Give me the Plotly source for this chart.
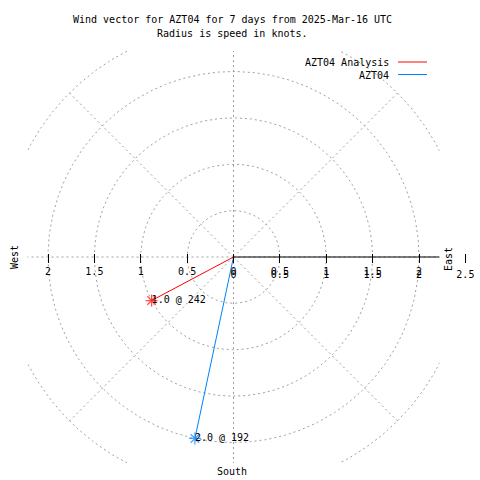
import numpy as np
import plotly.graph_objects as go

# ---------------- data ----------------
series_names = ["AZT04 Analysis", "AZT04"]
speeds_kt = [1.0, 2.0]
directions_deg = [242, 192]
series_colors = ["#ff0000", "#0080ff"]

grid_radii = [0.5, 1.0, 1.5, 2.0, 2.5]
spoke_angles = [0, 45, 90, 135, 180, 225, 270, 315]

axis_tick_vals = [-2, -1.5, -1, -0.5, 0, 0.5, 1, 1.5, 2]
axis_tick_text = ["2", "1.5", "1", "0.5", "0", "0.5", "1", "1.5", "2"]
r_tick_vals = [0, 0.5, 1, 1.5, 2, 2.5]
r_tick_text = ["0", "0.5", "1", "1.5", "2", "2.5"]

title_lines = ["Wind vector for AZT04 for 7 days from 2025-Mar-16 UTC",
               "Radius is speed in knots."]
compass_labels = ["West", "East", "South"]

# ---------------- layout constants (pixels) ----------------
W = 480
CX, CY = 233.5, 257.0
PPU = 92.75
HALF = 206.0
R_BOX = HALF / PPU
R_OUT = max(grid_radii)
FONT = "DejaVu Sans Mono"
GRID = dict(color="#a0a0a0", width=1, dash="2px,3px")


def fx(p):
    return p / W


def fy(p):
    return 1 - p / W


fig = go.Figure()

# grid circles
t = np.linspace(0, 2 * np.pi, 721)
for r in grid_radii:
    fig.add_trace(go.Scatter(x=r * np.cos(t), y=r * np.sin(t), mode="lines",
                             line=GRID, hoverinfo="skip", showlegend=False))
# spokes
for a in spoke_angles:
    ar = np.radians(a)
    fig.add_trace(go.Scatter(x=[0, R_OUT * np.sin(ar)], y=[0, R_OUT * np.cos(ar)],
                             mode="lines", line=GRID, hoverinfo="skip", showlegend=False))
# radial axis line (east)
fig.add_trace(go.Scatter(x=[0, R_BOX], y=[0, 0], mode="lines",
                         line=dict(color="black", width=1),
                         hoverinfo="skip", showlegend=False))

# wind vectors
for name, s, d, c in zip(series_names, speeds_kt, directions_deg, series_colors):
    th = np.radians(d)
    xe, ye = s * np.sin(th), s * np.cos(th)
    fig.add_trace(go.Scatter(x=[0, xe], y=[0, ye], mode="lines+markers", name=name,
                             line=dict(color=c, width=1),
                             marker=dict(symbol="asterisk-open", size=[0, 10],
                                         color=c, line=dict(color=c, width=1.3)),
                             hoverinfo="skip", showlegend=False))
    fig.add_trace(go.Scatter(x=[xe], y=[ye], mode="text", text=[f"{s:.1f} @ {d}"],
                             textposition="middle right",
                             textfont=dict(family=FONT, size=10, color="black"),
                             hoverinfo="skip", showlegend=False))

# helper trace for second (radial) tick axis
fig.add_trace(go.Scatter(x=[None], y=[None], xaxis="x2", yaxis="y",
                         hoverinfo="skip", showlegend=False))

annotations = []
# title
for i, line in enumerate(title_lines):
    annotations.append(dict(text=line, x=fx(232), y=fy(20 + 14 * i), xref="paper", yref="paper",
                            xanchor="center", yanchor="middle", showarrow=False,
                            font=dict(family=FONT, size=10, color="black")))
# legend
shapes = []
for i, (name, c) in enumerate(zip(series_names, series_colors)):
    yy = 63 + 12.5 * i
    annotations.append(dict(text=name, x=fx(391), y=fy(yy), xref="paper", yref="paper",
                            xanchor="right", yanchor="middle", showarrow=False,
                            font=dict(family=FONT, size=10, color="black")))
    shapes.append(dict(type="line", xref="paper", yref="paper", x0=fx(398), x1=fx(427),
                       y0=fy(yy - 1), y1=fy(yy - 1), line=dict(color=c, width=1)))
# compass labels
comp_pos = [(14, 257, -90), (448, 259, -90), (232, 471, 0)]
for lab, (px, py, ang) in zip(compass_labels, comp_pos):
    annotations.append(dict(text=lab, x=fx(px), y=fy(py), xref="paper", yref="paper",
                            xanchor="center", yanchor="middle", showarrow=False, textangle=ang,
                            font=dict(family=FONT, size=10, color="black")))

x0px = CX - HALF
fig.update_layout(
    width=W, height=W, autosize=False,
    margin=dict(l=0, r=0, t=0, b=0),
    paper_bgcolor="white", plot_bgcolor="rgba(0,0,0,0)",
    showlegend=False,
    xaxis=dict(domain=[fx(CX - HALF), fx(CX + HALF)], range=[-R_BOX, R_BOX],
               anchor="free", position=fy(253), showgrid=False, zeroline=False,
               showline=False, ticks="outside", ticklen=9, tickwidth=1, tickcolor="black",
               tickmode="array", tickvals=axis_tick_vals, ticktext=axis_tick_text,
               tickfont=dict(family=FONT, size=10, color="black"), fixedrange=True),
    xaxis2=dict(domain=[fx(x0px), 1.0], range=[-R_BOX, -R_BOX + (W - x0px) / PPU],
                anchor="free", position=fy(253), showgrid=False, zeroline=False,
                showline=False, ticks="outside", ticklen=9, tickwidth=1, tickcolor="black",
                tickmode="array", tickvals=r_tick_vals, ticktext=r_tick_text,
                ticklabelstandoff=3,
                tickfont=dict(family=FONT, size=10, color="black"), fixedrange=True),
    yaxis=dict(domain=[fy(CY + HALF), fy(CY - HALF)], range=[-R_BOX, R_BOX],
               visible=False, fixedrange=True),
    annotations=annotations,
    shapes=shapes,
)

fig.write_html("out.html", config={"displayModeBar": False},
               post_script="document.body.style.margin='0px';")
